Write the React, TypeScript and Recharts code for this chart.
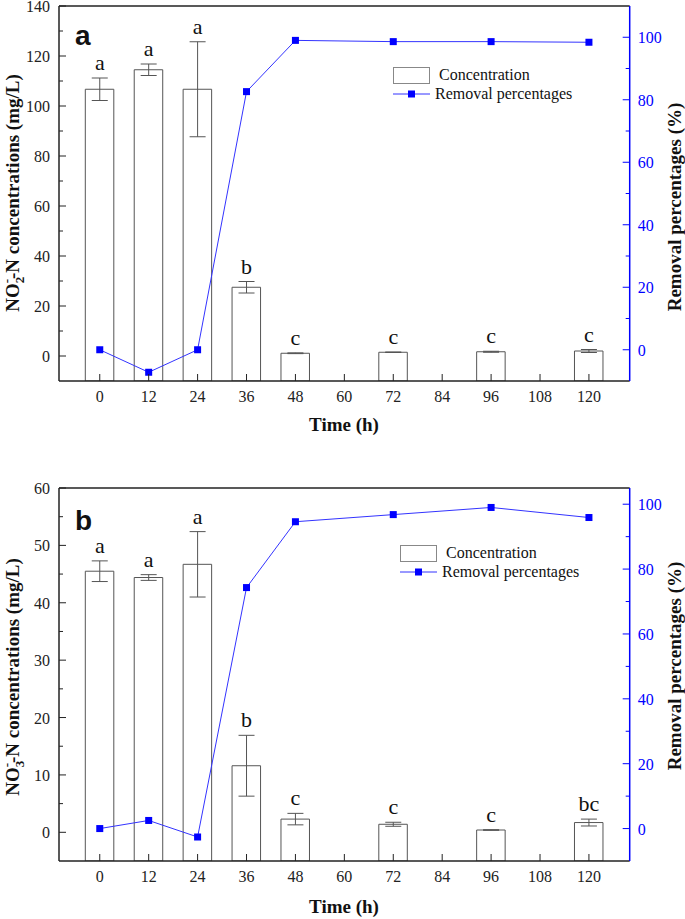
import React from 'react';
import { ComposedChart, Bar, Line, XAxis, YAxis, ErrorBar, LabelList, ReferenceLine, Legend } from 'recharts';

const SERIF = '"Liberation Serif", "Times New Roman", serif';
const SANS = '"Liberation Sans", Arial, sans-serif';
const BLUE = '#0000ff';
const LINE_BLUE = '#3333ff';
const INK = '#222';

// sampling times (h) and x-axis ticks
const times = [0, 12, 24, 36, 48, 72, 96, 120];
const timeTicks = [0, 12, 24, 36, 48, 60, 72, 84, 96, 108, 120];

// panel a: NO2--N
const no2Conc = [106.7, 114.5, 106.7, 27.5, 1.1, 1.5, 1.7, 2.0];
const no2Err = [4.5, 2.3, 19.0, 2.3, 0.15, 0.1, 0.2, 0.6];
const no2Removal = [0, -7.2, 0, 82.6, 99.0, 98.6, 98.6, 98.4];
const no2Letters = ['a', 'a', 'a', 'b', 'c', 'c', 'c', 'c'];

// panel b: NO3--N
const no3Conc = [45.5, 44.4, 46.7, 11.6, 2.3, 1.4, 0.4, 1.7];
const no3Err = [1.8, 0.5, 5.7, 5.3, 1.0, 0.35, 0.05, 0.6];
const no3Removal = [0, 2.5, -2.6, 74.3, 94.6, 96.8, 99.0, 95.9];
const no3Letters = ['a', 'a', 'a', 'b', 'c', 'c', 'c', 'bc'];

const no2LeftTicks = [0, 10, 20, 30, 40, 50, 60, 70, 80, 90, 100, 110, 120, 130, 140];
const no3LeftTicks = [0, 5, 10, 15, 20, 25, 30, 35, 40, 45, 50, 55, 60];
const removalTicks = [0, 10, 20, 30, 40, 50, 60, 70, 80, 90, 100];

function buildRows(conc: number[], err: number[], removal: number[], letters: string[]) {
  return times.map((t, i) => ({
    time: t,
    conc: conc[i],
    err: err[i],
    removal: removal[i],
    top: conc[i] + err[i],
    letter: letters[i],
  }));
}

const no2Data = buildRows(no2Conc, no2Err, no2Removal, no2Letters);
const no3Data = buildRows(no3Conc, no3Err, no3Removal, no3Letters);

function yTick(side: 'left' | 'right', every: number, color: string) {
  return (props: any) => {
    const { x, y, payload } = props;
    const v = payload.value;
    const major = Math.abs(v % every) < 1e-6;
    const len = major ? 7 : 4;
    const dir = side === 'left' ? 1 : -1;
    return (
      <g>
        <line x1={x} x2={x + dir * len} y1={y} y2={y} stroke={color} strokeWidth={1} />
        {major && (
          <text
            x={side === 'left' ? x - 9 : x + 8}
            y={y}
            dy={6}
            textAnchor={side === 'left' ? 'end' : 'start'}
            fill={color}
            fontSize={16}
            fontFamily={SERIF}
          >
            {v}
          </text>
        )}
      </g>
    );
  };
}

const xTick = (props: any) => {
  const { x, y, payload } = props;
  return (
    <g>
      <line x1={x} x2={x} y1={y} y2={y - 7} stroke={INK} strokeWidth={1} />
      <text x={x} y={y + 21} textAnchor="middle" fill={INK} fontSize={16} fontFamily={SERIF}>
        {payload.value}
      </text>
    </g>
  );
};

const squareDot = (p: any) => {
  if (p.cx == null || p.cy == null) return <g key={p.index} />;
  return <rect key={p.index} x={p.cx - 3.5} y={p.cy - 3.5} width={7} height={7} fill={BLUE} />;
};

const letterLabel = (p: any) => (
  <text x={p.x} y={p.y - 8} textAnchor="middle" fontSize={22} fontFamily={SERIF} fill="#111">
    {p.value}
  </text>
);

const LegendBox = () => (
  <div style={{ fontFamily: SERIF, fontSize: 16, color: '#111', lineHeight: '18px' }}>
    <div style={{ display: 'flex', alignItems: 'center', height: 18 }}>
      <div style={{ width: 37, height: 17, border: '1px solid #888', boxSizing: 'border-box', background: '#fff' }} />
      <span style={{ marginLeft: 9 }}>Concentration</span>
    </div>
    <div style={{ display: 'flex', alignItems: 'center', height: 20 }}>
      <svg width={37} height={10} style={{ display: 'block' }}>
        <line x1={0} x2={37} y1={5} y2={5} stroke={LINE_BLUE} strokeWidth={1} />
        <rect x={15} y={1.5} width={7} height={7} fill={BLUE} />
      </svg>
      <span style={{ marginLeft: 5 }}>Removal percentages</span>
    </div>
  </div>
);

interface PanelProps {
  data: any[];
  height: number;
  marginTop: number;
  marginBottom: number;
  leftDomain: [number, number];
  leftTicks: number[];
  leftEvery: number;
  rightDomain: [number, number];
  legendLeft: number;
  legendTop: number;
}

function Panel(p: PanelProps) {
  const floor = p.leftDomain[0];
  return (
    <ComposedChart
      width={685}
      height={p.height}
      data={p.data}
      margin={{ top: p.marginTop, right: 0, bottom: p.marginBottom, left: 0 }}
    >
      <XAxis
        dataKey="time"
        type="number"
        domain={[-10, 130]}
        ticks={timeTicks}
        interval={0}
        height={50}
        tickSize={0}
        tickMargin={0}
        tickLine={false}
        tick={xTick}
        axisLine={{ stroke: INK, strokeWidth: 1.5 }}
      />
      <YAxis
        yAxisId="left"
        orientation="left"
        domain={p.leftDomain}
        ticks={p.leftTicks}
        interval={0}
        width={59}
        tickSize={0}
        tickMargin={0}
        tickLine={false}
        tick={yTick('left', p.leftEvery, INK)}
        axisLine={{ stroke: INK, strokeWidth: 1.5 }}
        allowDataOverflow
      />
      <YAxis
        yAxisId="right"
        orientation="right"
        domain={p.rightDomain}
        ticks={removalTicks}
        interval={0}
        width={55.3}
        tickSize={0}
        tickMargin={0}
        tickLine={false}
        tick={yTick('right', 20, BLUE)}
        axisLine={{ stroke: BLUE, strokeWidth: 1.5 }}
        allowDataOverflow
      />
      <ReferenceLine yAxisId="left" y={p.leftDomain[1]} stroke={INK} strokeWidth={1.5} />
      {/* bars rise from the bottom of the frame, as in the original figure */}
      <Bar
        yAxisId="left"
        dataKey={(d: any) => [floor, d.conc]}
        fill="#fff"
        fillOpacity={0}
        stroke="#555"
        strokeWidth={1}
        barSize={28.5}
        isAnimationActive={false}
        legendType="none"
      />
      <Line
        yAxisId="left"
        dataKey="conc"
        stroke="none"
        dot={false}
        activeDot={false}
        legendType="none"
        isAnimationActive={false}
      >
        <ErrorBar dataKey="err" width={8} stroke="#555" strokeWidth={1} direction="y" />
      </Line>
      <Line
        yAxisId="left"
        dataKey="top"
        stroke="none"
        dot={false}
        activeDot={false}
        legendType="none"
        isAnimationActive={false}
      >
        <LabelList dataKey="letter" content={letterLabel} />
      </Line>
      <Line
        yAxisId="right"
        dataKey="removal"
        stroke={LINE_BLUE}
        strokeWidth={1}
        dot={squareDot}
        activeDot={false}
        isAnimationActive={false}
      />
      <Legend
        layout="vertical"
        align="center"
        verticalAlign="middle"
        content={LegendBox}
        wrapperStyle={{ position: 'absolute', left: p.legendLeft, top: p.legendTop, width: 'auto', height: 'auto' }}
      />
    </ComposedChart>
  );
}

function Titles() {
  const bold = { fontFamily: SERIF, fontWeight: 700, fontSize: 19, fill: '#111' } as const;
  const leftTitle = (cy: number, sub: string) => (
    <text transform={`translate(19,${cy}) rotate(-90)`} textAnchor="middle" {...bold}>
      NO
      <tspan fontSize={13} dy={5}>{sub}</tspan>
      <tspan fontSize={13} dx={-6.5} dy={-13}>-</tspan>
      <tspan dy={8}>-N concentrations (mg/L)</tspan>
    </text>
  );
  const rightTitle = (cy: number) => (
    <text transform={`translate(681,${cy}) rotate(-90)`} textAnchor="middle" {...bold}>
      Removal percentages (%)
    </text>
  );
  return (
    <svg
      width={685}
      height={919}
      style={{ position: 'absolute', left: 0, top: 0, pointerEvents: 'none' }}
    >
      <text x={75} y={45} fontFamily={SANS} fontWeight={700} fontSize={28} fill="#111">a</text>
      <text x={75} y={530} fontFamily={SANS} fontWeight={700} fontSize={28} fill="#111">b</text>
      {leftTitle(193, '2')}
      {leftTitle(677, '3')}
      {rightTitle(207)}
      {rightTitle(666)}
      <text x={344} y={431} textAnchor="middle" {...bold}>Time (h)</text>
      <text x={344} y={913} textAnchor="middle" {...bold}>Time (h)</text>
    </svg>
  );
}

export default function App() {
  return (
    <div style={{ position: 'absolute', left: 0, top: 0, width: 685, height: 919, background: '#fff' }}>
      <Panel
        data={no2Data}
        height={460}
        marginTop={6}
        marginBottom={29}
        leftDomain={[-10, 140]}
        leftTicks={no2LeftTicks}
        leftEvery={20}
        rightDomain={[-10, 110]}
        legendLeft={393}
        legendTop={66}
      />
      <Panel
        data={no3Data}
        height={459}
        marginTop={28}
        marginBottom={8}
        leftDomain={[-5, 60]}
        leftTicks={no3LeftTicks}
        leftEvery={10}
        rightDomain={[-10, 105]}
        legendLeft={400}
        legendTop={84}
      />
      <Titles />
    </div>
  );
}
